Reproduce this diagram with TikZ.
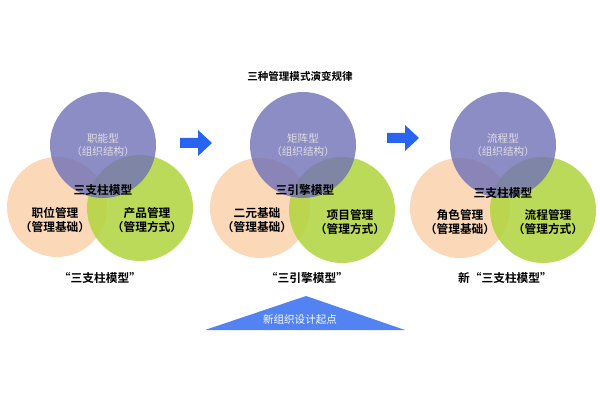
\documentclass[tikz,border=0pt]{standalone}
\usepackage{fontspec}
\newfontfamily\cjk{Noto Sans CJK SC}
\newfontfamily\cjkb{Noto Sans CJK SC Bold}
\definecolor{peach}{RGB}{250,212,176}
\definecolor{lime}{RGB}{176,212,60}
\definecolor{violet}{RGB}{112,112,184}
\definecolor{arrowblue}{RGB}{40,100,240}
\begin{document}
\begin{tikzpicture}
[x=0.03cm,y=-0.03cm,peachball/.style={fill=peach,fill opacity=0.9,draw=none},limeball/.style={fill=lime,fill opacity=0.85,draw=none},violetball/.style={fill=violet,fill opacity=0.8,draw=none},blacktext/.style={black,font=\cjkb\normalsize,align=center},greytext/.style={gray!25,font=\cjk\small,align=center},bluearrow/.style={fill=arrowblue,draw=none}]
\useasboundingbox (0,0) rectangle (600,400);

% title
\node[font=\cjkb\small](title) at (300,76){三种管理模式演变规律};

% group one
\fill[peachball] (57,207) circle (50);
\fill[limeball] (140,208) circle (53);
\fill[violetball] (103,145) circle (53);
\node[greytext](topa) at (103,145){职能型\\（组织结构）};
\node[blacktext](midA) at (103,190){三支柱模型};
\node[blacktext](lefta) at (55,220){职位管理\\（管理基础）};
\node[blacktext](righta) at (147,220){产品管理\\（管理方式）};
\node[font=\cjkb\normalsize](capa) at (100,278){“三支柱模型”};

% arrow one
\fill[bluearrow] (180,138) -- (198,138) -- (198,130) -- (212,143) -- (198,156) -- (198,148) -- (180,148) -- cycle;

% group two
\fill[peachball] (260,208) circle (50);
\fill[limeball] (342,210) circle (53);
\fill[violetball] (303,145) circle (53);
\node[greytext](topb) at (303,145){矩阵型\\（组织结构）};
\node[blacktext](midb) at (305,190){三引擎模型};
\node[blacktext](leftb) at (257,220){二元基础\\（管理基础）};
\node[blacktext](rightb) at (350,222){项目管理\\（管理方式）};
\node[font=\cjkb\normalsize](capb) at (307,278){“三引擎模型”};

% arrow two
\fill[bluearrow] (387,133) -- (405,133) -- (405,125) -- (419,138) -- (405,151) -- (405,143) -- (387,143) -- cycle;

% group three
\fill[peachball] (460,208) circle (50);
\fill[limeball] (543,210) circle (53);
\fill[violetball] (503,145) circle (53);
\node[greytext](topc) at (503,145){流程型\\（组织结构）};
\node[blacktext](midc) at (503,193){三支柱模型};
\node[blacktext](leftc) at (460,222){角色管理\\（管理基础）};
\node[blacktext](rightc) at (548,222){流程管理\\（管理方式）};
\node[font=\cjkb\normalsize](capc) at (505,278){新“三支柱模型”};

% start point
\fill[arrowblue!80!white] (205,330) -- (306,296) -- (405,330) -- cycle;
\node[white,font=\cjk\small](start) at (300,320){新组织设计起点};

\end{tikzpicture}
\end{document}
